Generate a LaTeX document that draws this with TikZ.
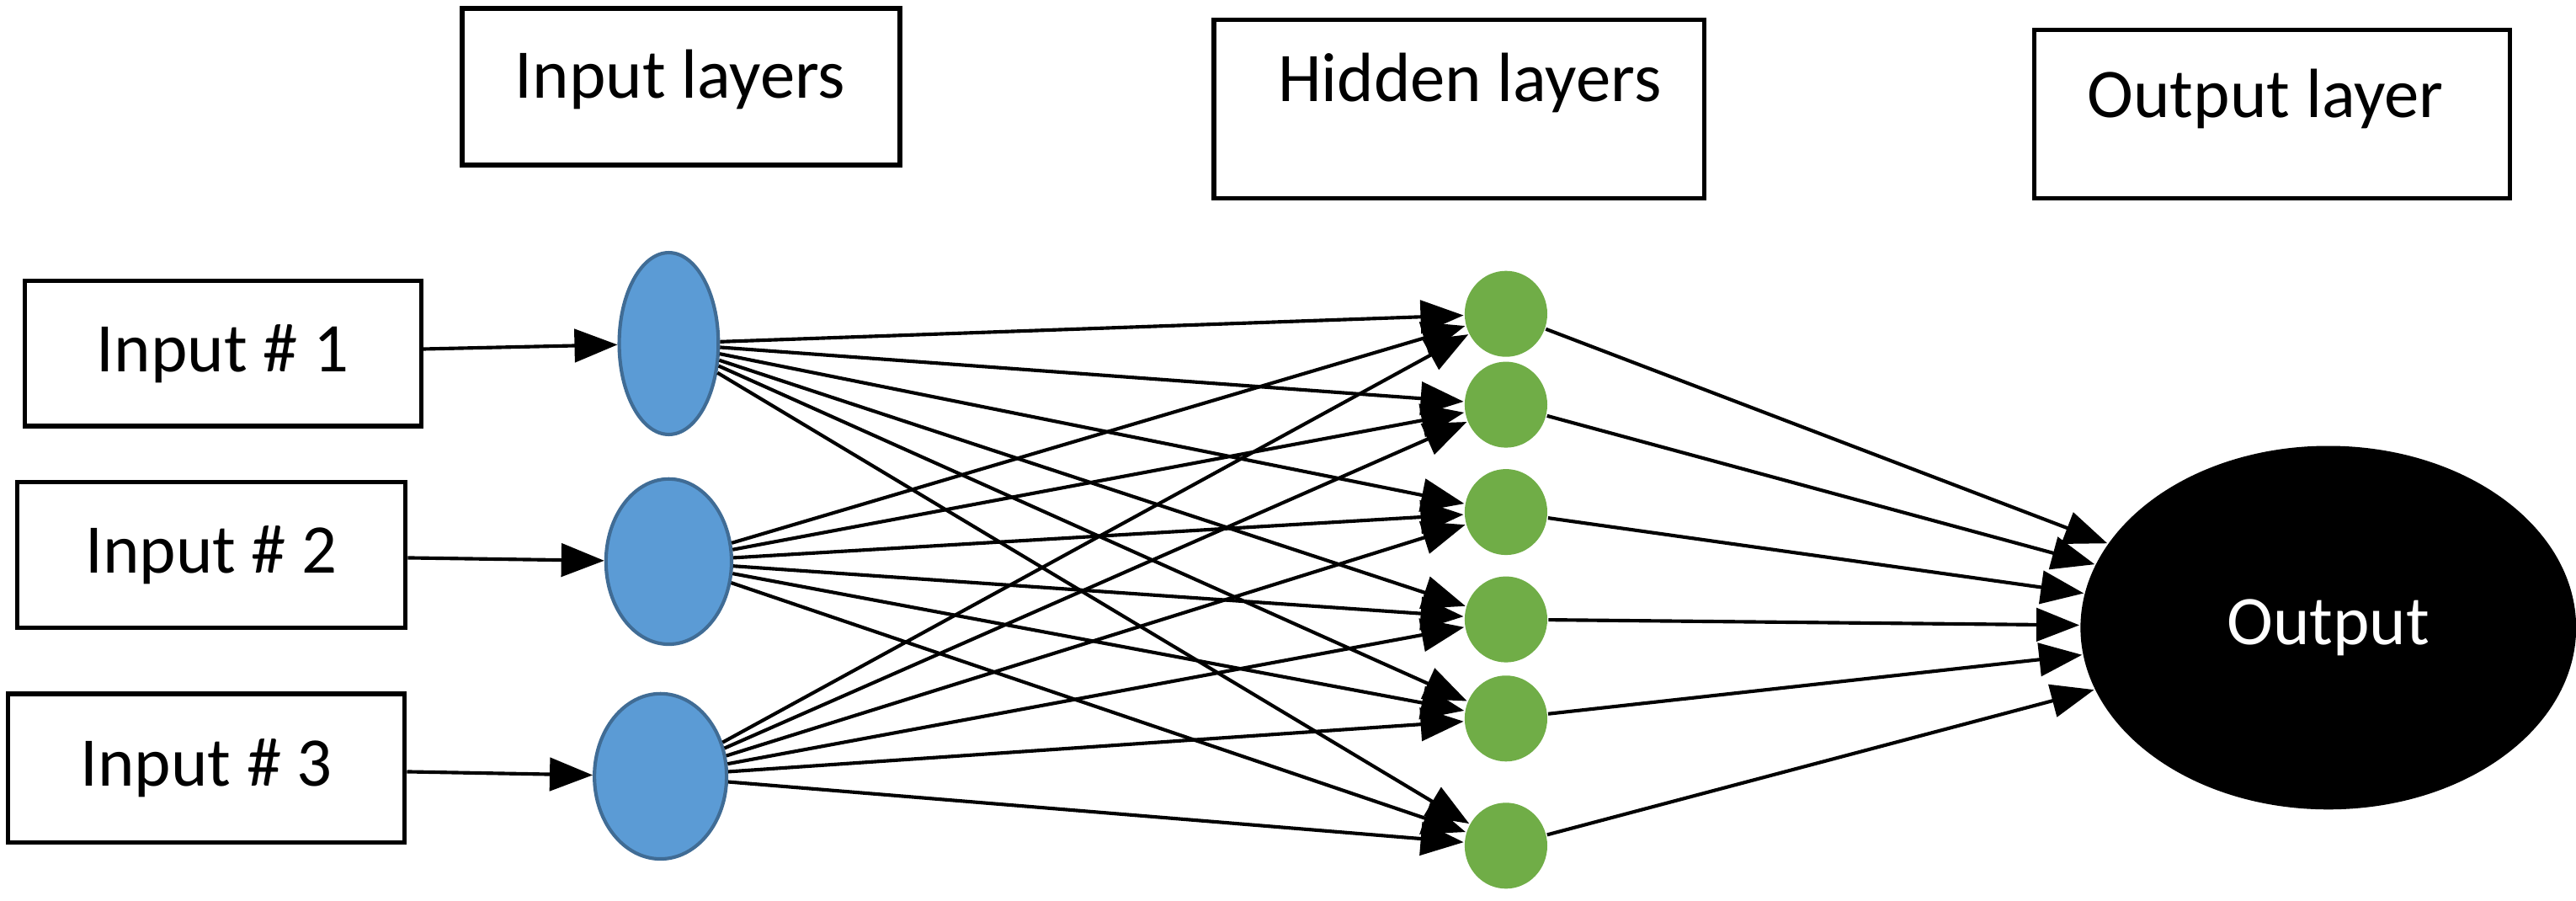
\documentclass[tikz,border=0pt]{standalone}
\usepackage{fontspec}
\setmainfont{Carlito}
\usetikzlibrary{arrows.meta,shapes.geometric}
\definecolor{bl}{HTML}{5B9BD5}
\definecolor{gr}{HTML}{70AD47}
\begin{document}
\begin{tikzpicture}[x=0.01cm,y=-0.01cm,
 box/.style={draw,line width=0.8pt,minimum width=#1,anchor=north west,inner sep=0pt},
 lab/.style={font=\fontsize{12}{14}\selectfont},
 inn/.style={ellipse,fill=bl,draw=bl!70!black,line width=0.6pt,inner sep=0pt},
 hid/.style={ellipse,fill=gr,inner sep=0pt,minimum width=0.5cm,minimum height=0.52cm},
 arr/.style={-{Triangle[length=0.26cm,width=0.2cm]},line width=0.6pt}]
\useasboundingbox (0,0) rectangle (1560,545);
\draw[line width=0.8pt] (280,5) rectangle (545,100);
\node[lab] (t1) at (412,48) {Input layers};
\draw[line width=0.8pt] (735,12) rectangle (1032,120);
\node[lab] (t2) at (890,50) {Hidden layers};
\draw[line width=0.8pt] (1232,18) rectangle (1520,120);
\node[lab] (t3) at (1372,60) {Output layer};
\node[draw,line width=0.8pt,lab,minimum width=2.4cm,minimum height=0.88cm] (x1) at (135,214) {Input \# 1};
\node[draw,line width=0.8pt,lab,minimum width=2.35cm,minimum height=0.88cm] (x2) at (128,336) {Input \# 2};
\node[draw,line width=0.8pt,lab,minimum width=2.4cm,minimum height=0.9cm] (x3) at (125,465) {Input \# 3};
\node[inn,minimum width=0.6cm,minimum height=1.1cm] (i1) at (405,208) {};
\node[inn,minimum width=0.76cm,minimum height=1.0cm] (i2) at (405,340) {};
\node[inn,minimum width=0.8cm,minimum height=1.0cm] (i3) at (400,470) {};
\foreach \n/\y in {1/190,2/245,3/310,4/375,5/435,6/512}
  \node[hid] (h\n) at (912,\y) {};
\node[ellipse,fill=black,minimum width=3.0cm,minimum height=2.2cm,text=white,lab] (o) at (1410,380) {Output};
\draw[arr] (x1) -- (i1);
\draw[arr] (x2) -- (i2);
\draw[arr] (x3) -- (i3);
\foreach \i in {1,2,3}
  \foreach \h in {1,...,6}
    \draw[arr] (i\i) -- (h\h);
\foreach \h in {1,...,6}
  \draw[arr] (h\h) -- (o);
\end{tikzpicture}
\end{document}
